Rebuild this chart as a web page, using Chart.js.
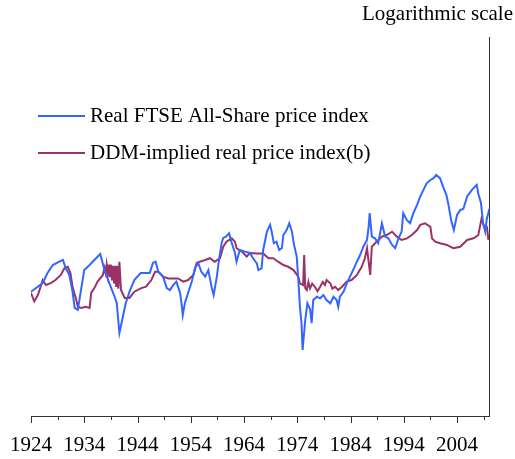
<!DOCTYPE html>
<html>
  <head>
    <meta charset="utf-8">
    <title>Real FTSE All-Share vs DDM-implied price index</title>
    <script src="https://cdn.jsdelivr.net/npm/chart.js"></script>
    <style>
    html, body {
      margin: 0;
      padding: 0;
      background: #fff;
    }
    canvas {
      display: block;
    }
  </style>
  </head>
  <body>
    <canvas id="ftseChart" width="515" height="459"></canvas>
    <script>
    // values (log scale, arbitrary units)
    const ftseYears = [1924.0,1926.2,1927.1,1928.1,1929.3,1930.0,1930.5,1931.2,1931.8,1932.2,
      1932.8,1933.3,1934.0,1935.0,1935.9,1937.0,1937.8,1938.7,1939.7,1940.1,
      1940.6,1941.2,1941.8,1942.5,1943.4,1944.6,1945.6,1946.3,1946.9,1947.4,
      1947.9,1948.8,1949.5,1950.1,1950.7,1951.3,1952.0,1952.3,1952.5,1952.9,
      1953.5,1954.2,1954.8,1955.4,1956.0,1956.7,1957.3,1957.9,1958.3,1958.9,
      1959.3,1959.8,1960.1,1960.6,1961.2,1961.7,1962.3,1962.6,1963.2,1964.2,
      1965.1,1965.7,1966.4,1966.7,1967.3,1967.6,1968.3,1968.9,1969.2,1969.6,
      1970.1,1970.6,1971.1,1971.4,1972.0,1972.5,1973.0,1973.4,1973.9,1974.2,
      1974.5,1974.8,1975.0,1975.5,1975.9,1976.4,1976.7,1977.0,1977.7,1978.3,
      1978.9,1979.5,1980.2,1980.8,1981.4,1981.7,1982.0,1982.7,1983.3,1983.9,
      1984.5,1985.2,1985.8,1986.4,1987.1,1987.4,1987.6,1988.0,1988.6,1989.2,
      1989.9,1990.5,1991.1,1991.8,1992.4,1993.0,1993.6,1993.9,1994.6,1995.2,
      1995.8,1996.5,1997.1,1997.7,1998.3,1999.0,1999.6,2000.1,2000.8,2001.5,
      2002.0,2002.4,2002.9,2003.4,2004.0,2004.6,2005.2,2005.9,2006.8,2007.7,
      2008.0,2008.5,2008.9,2009.3,2009.6,2010.1];
    const ftseValues = [45.3,50.3,56.8,62.6,65.2,66.6,60.4,55.5,45.3,37.2,
      36.3,44.6,58.9,62.6,66.6,71.6,58.9,50.3,42.6,39.5,
      27.4,32.9,39.5,45.3,52.2,56.8,56.8,56.8,64.2,65.2,
      57.7,54.4,47.3,46.2,49.1,51.2,44.6,38.5,34.1,39.5,
      44.6,51.2,60.4,64.2,57.7,54.4,58.9,48.1,43.5,54.4,
      66.6,81.9,87.1,88.4,92.1,81.9,72.5,65.2,75.2,73.7,
      72.5,68.0,63.9,58.9,60.1,75.2,93.9,102,93.9,81.6,
      83.2,75.2,76.8,90.2,95.8,104,93.9,79.9,69.4,52.2,
      37.7,30.9,22.3,32.1,39.3,36.7,30.9,40.9,42.6,41.8,
      43.5,40.9,39.3,42.6,40.9,37.7,42.6,45.3,50.1,54.4,
      58.9,65.2,70.7,78.2,84.9,99.6,117.6,88.4,86.6,81.6,
      104,88.4,86.6,79.9,76.8,86.6,93.9,117.6,108,104,
      117.6,130,144,156,169,176,180,187,180,159,
      147,130,108,95.8,115,122,124,144,156,166,
      149,133,104,93.9,110,124];

    const ddmYears = [1924.0,1924.6,1925.3,1926.2,1926.8,1927.7,1928.6,1929.6,1930.3,1930.9,
      1931.4,1931.8,1932.5,1932.8,1933.4,1934.3,1935.0,1935.3,1935.9,1936.5,
      1937.5,1937.8,1938.0,1938.2,1938.4,1938.6,1938.8,1939.0,1939.2,1939.4,
      1939.6,1939.8,1940.0,1940.2,1940.4,1940.6,1940.9,1941.6,1942.5,1943.4,
      1944.7,1945.6,1946.6,1947.3,1947.9,1948.8,1949.8,1950.7,1951.6,1952.6,
      1953.5,1954.5,1955.1,1955.7,1956.7,1957.6,1958.5,1959.5,1960.1,1960.7,
      1961.7,1962.3,1962.6,1963.6,1964.5,1965.1,1966.4,1967.6,1968.6,1969.5,
      1970.4,1971.4,1972.3,1973.3,1974.2,1974.5,1975.1,1975.3,1975.5,1975.8,
      1976.1,1976.4,1976.8,1977.3,1977.8,1978.3,1978.8,1979.2,1979.5,1980.2,
      1980.6,1981.1,1981.7,1982.4,1983.3,1984.2,1985.2,1986.1,1986.7,1987.1,
      1987.7,1988.0,1988.9,1989.9,1990.8,1991.8,1992.7,1993.6,1994.6,1995.5,
      1996.5,1997.1,1998.0,1999.0,1999.3,1999.9,2000.8,2002.1,2003.3,2004.6,
      2005.9,2007.1,2008.0,2008.6,2009.1,2009.6,2009.9];
    const ddmValues = [44.6,40.3,43.5,52.2,49.1,50.3,52.2,55.5,60.4,61.3,
      56.8,48.1,40.9,37.7,37.2,37.7,37.2,44.6,47.3,51.2,
      55.5,60.4,57,63,56,63,54,63,52,62,
      50,62,48,62,47,65.2,46.2,42.0,42.0,45.3,
      47.3,48.1,52.2,57.7,57.7,54.4,53.2,53.2,53.2,51.2,
      52.2,55.5,64.2,65.2,66.6,68.0,65.2,68.0,78.2,83.2,
      86.6,83.2,76.8,73.7,69.4,72.5,72.1,72.1,68.0,68.0,
      65.2,62.6,61.3,58.9,54.4,50.1,49.1,70.7,47.3,46.2,
      51,47.1,50,48.1,45.5,48.1,51,49.1,52.2,50.1,
      47,48.1,46.2,48.1,51.2,52.2,55.5,61.3,68.0,76.8,
      55.5,78.2,83.2,88.4,90.2,93.9,88.4,84.9,86.6,90.2,
      95.8,102,104,99.6,86.6,83.2,81.6,79.9,76.8,78.2,
      84.9,86.6,90.2,110,99.6,99.6,84.9];

    const seriesLabels = ["Real FTSE All-Share price index", "DDM-implied real price index(b)"];
    const seriesColors = ["#3366FF", "#993366"];
    const tickYears = [1924, 1934, 1944, 1954, 1964, 1974, 1984, 1994, 2004];
    const titleText = "Logarithmic scale";

    const FONT = "'Liberation Serif', 'Times New Roman', serif";

    function toPoints(xs, ys) {
      return xs.map((x, i) => ({ x: x, y: ys[i] }));
    }

    // title, legend and the small axis tick marks
    const decorations = {
      id: "decorations",
      afterDraw(chart) {
        const ctx = chart.ctx;
        const xs = chart.scales.x;
        const bottom = chart.chartArea.bottom;
        ctx.save();
        ctx.strokeStyle = "#333";
        ctx.lineWidth = 1;
        for (let yr = 1924; yr <= 2009; yr += 5) {
          const px = Math.round(xs.getPixelForValue(yr)) + 0.5;
          const len = (yr - 1924) % 10 === 0 ? 7 : 4;
          ctx.beginPath();
          ctx.moveTo(px, bottom);
          ctx.lineTo(px, bottom + len);
          ctx.stroke();
        }

        ctx.fillStyle = "#000";
        ctx.font = "21px " + FONT;
        ctx.textBaseline = "alphabetic";
        ctx.textAlign = "right";
        ctx.fillText(titleText, 513, 20);

        ctx.textAlign = "left";
        const rows = [116, 153];
        chart.data.datasets.forEach((ds, i) => {
          ctx.strokeStyle = ds.borderColor;
          ctx.lineWidth = 2;
          ctx.beginPath();
          ctx.moveTo(38, rows[i]);
          ctx.lineTo(85, rows[i]);
          ctx.stroke();
          ctx.fillText(ds.label, 90, rows[i] + 6);
        });
        ctx.restore();
      }
    };

    const ctx = document.getElementById("ftseChart").getContext("2d");
    new Chart(ctx, {
      type: "line",
      data: {
        datasets: [
          {
            label: seriesLabels[0],
            data: toPoints(ftseYears, ftseValues),
            borderColor: seriesColors[0],
            borderWidth: 2,
            pointRadius: 0,
            fill: false,
            tension: 0
          },
          {
            label: seriesLabels[1],
            data: toPoints(ddmYears, ddmValues),
            borderColor: seriesColors[1],
            borderWidth: 2,
            pointRadius: 0,
            fill: false,
            tension: 0
          }
        ]
      },
      options: {
        responsive: false,
        animation: false,
        devicePixelRatio: 1,
        layout: { padding: { left: 31, right: 0, top: 37, bottom: 0 } },
        plugins: {
          legend: { display: false },
          tooltip: { enabled: false }
        },
        scales: {
          x: {
            type: "linear",
            min: 1924,
            max: 2010.1,
            afterBuildTicks: (scale) => {
              scale.ticks = tickYears.map((v) => ({ value: v }));
            },
            afterFit: (scale) => {
              scale.height = 43;
              scale.paddingLeft = 0;
              scale.paddingRight = 0;
            },
            grid: { display: false, drawTicks: false },
            border: { display: true, color: "#333", width: 1 },
            ticks: {
              color: "#000",
              font: { family: FONT, size: 21 },
              padding: 17,
              maxRotation: 0,
              autoSkip: false,
              callback: (v) => String(v)
            }
          },
          y: {
            type: "logarithmic",
            position: "right",
            min: 10,
            max: 1000,
            afterFit: (scale) => { scale.width = 25.5; },
            grid: { display: false, drawTicks: false },
            border: { display: true, color: "#333", width: 1 },
            ticks: { display: false }
          }
        }
      },
      plugins: [decorations]
    });
  </script>
  </body>
</html>
